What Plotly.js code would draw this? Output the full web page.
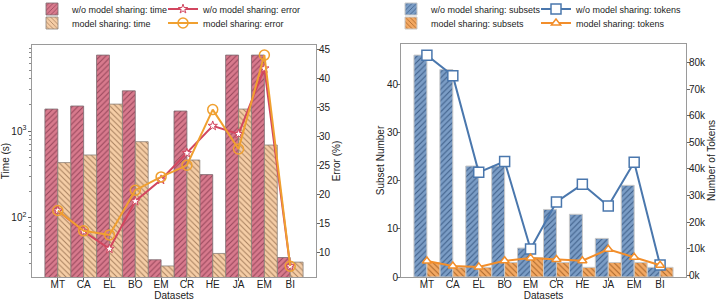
<!DOCTYPE html>
<html>
<head>
<meta charset="utf-8">
<script src="https://cdn.plot.ly/plotly-3.0.1.min.js"></script>
<style>html,body{margin:0;padding:0;background:#fff;}#chart{width:718px;height:303px;}</style>
</head>
<body>
<div id="chart"></div>
<script>
// ---- data ----
const datasets = ['MT','CA','EL','BO','EM','CR','HE','JA','EM','BI'];
const positions = [0,1,2,3,4,5,6,7,8,9];

const timeNoShare = [1790, 1940, 7480, 2900, 33, 1700, 315, 7480, 7480, 35];
const timeShare   = [433, 530, 2040, 754, 28, 464, 39, 1790, 690, 31];
const errNoShare  = [17.2, 13.6, 10.6, 18.8, 22.5, 27.1, 31.8, 30.4, 41.7, 7.6];
const errShare    = [17.2, 13.7, 13.0, 20.7, 23.0, 25.0, 34.6, 27.8, 44.0, 7.6];

const subsetsNoShare = [46, 43, 23, 23, 6, 14, 13, 8, 19, 2];
const subsetsShare   = [3, 2, 2, 3, 4, 3, 2, 3, 3, 2];
const tokensNoShare  = [82700, 75000, 38700, 42800, 9900, 27600, 34200, 26100, 42500, 3900];
const tokensShare    = [5400, 3500, 3200, 5500, 6500, 6000, 5500, 9800, 6800, 3800];

const tokenTickVals  = [0,10000,20000,30000,40000,50000,60000,70000,80000];
const tokenTickText  = ['0k','10k','20k','30k','40k','50k','60k','70k','80k'];

// ---- styles ----
const FONT = 'Liberation Sans, Arial, Helvetica, sans-serif';
const pink = '#d87a8d', pinkHatch = '#96465a';
const tan = '#f5cda6', tanHatch = '#a8805e';
const red = '#d2465f', orange = '#f0a030';
const blueBar = '#7b9dc6', blueHatch = '#3d5e88', blueLine = '#4a77ad';
const orBar = '#f3a862', orHatch = '#a8652a', orLine = '#f28e2b';

const data = [
  {type:'bar', x:positions, y:timeNoShare, name:'w/o model sharing: time', xaxis:'x', yaxis:'y',
   legend:'legend',
   marker:{color:pink, line:{color:'#7a6a6e', width:0.8},
           pattern:{shape:'/', fgcolor:pinkHatch, bgcolor:pink, size:4, solidity:0.25}}},
  {type:'bar', x:positions, y:timeShare, name:'model sharing: time', xaxis:'x', yaxis:'y',
   legend:'legend3',
   marker:{color:tan, line:{color:'#8a8078', width:0.8},
           pattern:{shape:'\\', fgcolor:tanHatch, bgcolor:tan, size:4, solidity:0.25}}},
  {type:'scatter', mode:'lines+markers', x:positions, y:errNoShare, name:'w/o model sharing: error',
   xaxis:'x', yaxis:'y2', legend:'legend2',
   line:{color:red, width:2}, marker:{symbol:'star', size:7, color:'#ffffff', line:{color:red, width:1}}},
  {type:'scatter', mode:'lines+markers', x:positions, y:errShare, name:'model sharing: error',
   xaxis:'x', yaxis:'y2', legend:'legend4',
   line:{color:orange, width:2}, marker:{symbol:'circle-open', size:10, color:orange, line:{color:orange, width:1.5}}},

  {type:'bar', x:positions, y:subsetsNoShare, name:'w/o model sharing: subsets', xaxis:'x2', yaxis:'y3',
   legend:'legend5',
   marker:{color:blueBar, line:{color:'#c8c8c8', width:1},
           pattern:{shape:'/', fgcolor:blueHatch, bgcolor:blueBar, size:4, solidity:0.25}}},
  {type:'bar', x:positions, y:subsetsShare, name:'model sharing: subsets', xaxis:'x2', yaxis:'y3',
   legend:'legend7',
   marker:{color:orBar, line:{color:'#c8c8c8', width:1},
           pattern:{shape:'\\', fgcolor:orHatch, bgcolor:orBar, size:4, solidity:0.25}}},
  {type:'scatter', mode:'lines+markers', x:positions, y:tokensNoShare, name:'w/o model sharing: tokens',
   xaxis:'x2', yaxis:'y4', legend:'legend6',
   line:{color:blueLine, width:2}, marker:{symbol:'square', size:10, color:'#ffffff', line:{color:blueLine, width:1.5}}},
  {type:'scatter', mode:'lines+markers', x:positions, y:tokensShare, name:'model sharing: tokens',
   xaxis:'x2', yaxis:'y4', legend:'legend8',
   line:{color:orLine, width:2}, marker:{symbol:'triangle-up', size:8, color:'#ffffff', line:{color:orLine, width:1.5}}}
];

const W = 718, H = 303;
const px = v => v / W;
const py = v => (H - v) / H;

const axisLine = {showline:true, linecolor:'#9a9a9a', linewidth:1, ticks:'outside', ticklen:3,
                  tickcolor:'#666', showgrid:false, zeroline:false, automargin:false,
                  tickfont:{size:10, color:'#222', family:FONT}};

const legendBase = {orientation:'h', xanchor:'left', yanchor:'top',
                    font:{size:9, color:'#222'}, bgcolor:'rgba(0,0,0,0)', borderwidth:0};
const row1 = 1 + 5.5 / H, row2 = (H - 8.5) / H;
const leg = (x, y) => Object.assign({}, legendBase, {x:px(x), y:y});

const layout = {
  width: W, height: H,
  margin:{l:0, r:0, t:0, b:0, autoexpand:false},
  paper_bgcolor:'#fff', plot_bgcolor:'#fff',
  font:{family:FONT, size:10, color:'#222'},
  barmode:'group', bargap:0, bargroupgap:0,
  xaxis: Object.assign({}, axisLine, {domain:[px(32), px(316)], range:[-1,10], tickvals:positions, ticktext:datasets,
          mirror:true, anchor:'y', ticklabelstandoff:-5, title:{text:'Datasets', font:{size:10}, standoff:0}}),
  yaxis: Object.assign({}, axisLine, {domain:[py(277), py(45)], type:'log', range:[1.32, 3.99], dtick:1,
          exponentformat:'power', anchor:'x', tickfont:{size:8, color:'#222', family:FONT},
          title:{text:'Time (s)', font:{size:10}, standoff:0},
          minor:{ticks:'outside', ticklen:2, tickcolor:'#888'}}),
  yaxis2: Object.assign({}, axisLine, {domain:[py(277), py(45)], overlaying:'y', side:'right', anchor:'x',
          range:[5.74, 45.74], dtick:5, tick0:0, ticklabelstandoff:-3,
          title:{text:'Error (%)', font:{size:10}, standoff:1}}),
  xaxis2: Object.assign({}, axisLine, {domain:[px(401), px(686)], range:[-1,10], tickvals:positions, ticktext:datasets,
          mirror:true, anchor:'y3', ticklabelstandoff:-5, title:{text:'Datasets', font:{size:10}, standoff:0}}),
  yaxis3: Object.assign({}, axisLine, {domain:[py(277), py(44)], anchor:'x2', range:[0, 48.3], dtick:10,
          ticklabelstandoff:-3, title:{text:'Subset Number', font:{size:10}, standoff:0}}),
  yaxis4: Object.assign({}, axisLine, {domain:[py(277), py(44)], overlaying:'y3', side:'right', anchor:'x2',
          range:[-600, 86900], tickvals:tokenTickVals, ticktext:tokenTickText, ticklabelstandoff:-3,
          title:{text:'Number of Tokens', font:{size:10}, standoff:1}}),
  legend:  leg(32, row1),
  legend2: leg(163, row1),
  legend3: leg(32, row2),
  legend4: leg(163, row2),
  legend5: leg(391, row1),
  legend6: leg(536, row1),
  legend7: leg(391, row2),
  legend8: leg(536, row2),
  showlegend:true
};

Plotly.newPlot('chart', data, layout, {displayModeBar:false, staticPlot:true});
</script>
</body>
</html>
